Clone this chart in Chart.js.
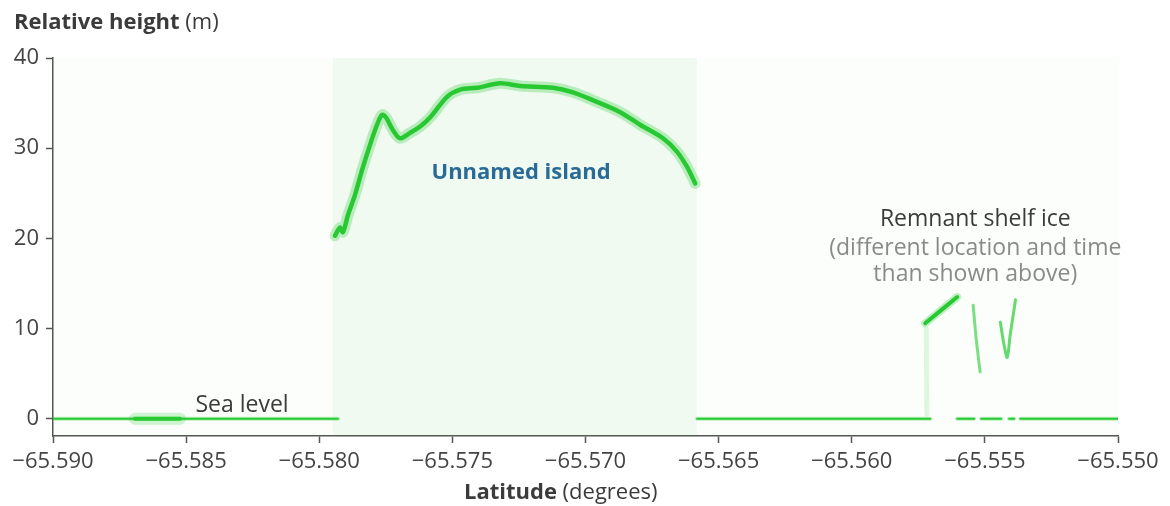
<!DOCTYPE html>
<html>
<head>
<meta charset="utf-8">
<script src="https://cdn.jsdelivr.net/npm/chart.js@4/dist/chart.umd.min.js"></script>
<style>
  html, body { margin: 0; padding: 0; background: #fff; }
  #wrap { width: 1170px; height: 506px; }
</style>
</head>
<body>
<div id="wrap"><canvas id="chart" width="1170" height="506"></canvas></div>
<script>
// Tick values
const xTicks = [-65.590, -65.585, -65.580, -65.575, -65.570, -65.565, -65.560, -65.555, -65.550];
const yTicks = [0, 10, 20, 30, 40];

// Island surface profile (latitude, height in m)
const islandLat = [-65.57941, -65.57922, -65.57911, -65.57892, -65.57866, -65.57839, -65.57809, -65.57783,
    -65.57764, -65.57749, -65.57723, -65.57697, -65.57659, -65.57621, -65.57584, -65.57520, -65.57471,
    -65.57407, -65.57321, -65.57246, -65.57122, -65.57047, -65.56971, -65.56870, -65.56795, -65.56709,
    -65.56656, -65.56618, -65.56588];
const islandHeight = [20.3, 21.2, 20.7, 22.6, 24.8, 27.6, 30.4, 32.6,
    33.7, 33.4, 32.0, 31.1, 31.7, 32.4, 33.4, 35.7, 36.5,
    36.7, 37.2, 36.9, 36.7, 36.2, 35.3, 34.0, 32.6, 31.1,
    29.6, 27.9, 26.1];

// Sea level segments (start, end latitude), height 0
const seaStart = [-65.5900, -65.56581, -65.55604, -65.55514, -65.55409, -65.55367];
const seaEnd   = [-65.5793, -65.55705, -65.55540, -65.55439, -65.55390, -65.5500];

// Noisy spot on the sea surface
const seaBlobLat = [-65.58692, -65.58523];

// Remnant shelf ice: slanted top and vertical streaks
const shelfLat = [-65.55724, -65.55604];
const shelfHeight = [10.6, 13.5];
const streakLat = [-65.55544, -65.55533, -65.55518];
const streakHeight = [12.6, 9.0, 5.2];
const vLat = [-65.55442, -65.55428, -65.55416, -65.55405, -65.55390, -65.55385];
const vHeight = [10.7, 8.2, 6.8, 9.3, 12.2, 13.2];
const faintLat = [-65.55720, -65.55718];
const faintHeight = [10.0, 0.5];

// Light photon-noise bands (latitude ranges)
const noiseAllLat = [-65.5900, -65.5500];
const noiseIslandLat = [-65.5795, -65.5658];

const green = 'rgb(40, 202, 50)';
const halo = 'rgba(40, 202, 50, 0.28)';

function pairs(xs, ys) {
    return xs.map((x, i) => ({ x: x, y: ys[i] }));
}

function band(lats, hi) {
    return [{ x: lats[0], y: hi }, { x: lats[1], y: hi }];
}

// Sea level as one line with gaps
const seaData = [];
seaStart.forEach((s, i) => {
    seaData.push({ x: s, y: 0 }, { x: seaEnd[i], y: 0 });
    if (i < seaStart.length - 1) seaData.push({ x: (seaEnd[i] + seaStart[i + 1]) / 2, y: null });
});

const lineDs = (data, color, width) => ({
    data: data,
    showLine: true,
    borderColor: color,
    borderWidth: width,
    pointRadius: 0,
    tension: 0.3,
    spanGaps: false,
    borderCapStyle: 'round',
    borderJoinStyle: 'round',
    fill: false
});

const datasets = [
    Object.assign(lineDs(band(noiseAllLat, 40), 'rgba(0,0,0,0)', 0),
        { fill: { target: 'start' }, backgroundColor: 'rgba(60, 190, 60, 0.02)', tension: 0 }),
    Object.assign(lineDs(band(noiseIslandLat, 40), 'rgba(0,0,0,0)', 0),
        { fill: { target: 'start' }, backgroundColor: 'rgba(60, 190, 60, 0.06)', tension: 0 }),
    lineDs(seaData, 'rgba(40, 202, 50, 0.3)', 4),
    lineDs(seaData, green, 2),
    lineDs(pairs(seaBlobLat, [0, 0]), 'rgba(40, 202, 50, 0.22)', 12),
    lineDs(pairs(seaBlobLat, [0, 0]), green, 4),
    lineDs(pairs(islandLat, islandHeight), halo, 11),
    lineDs(pairs(islandLat, islandHeight), green, 4.5),
    lineDs(pairs(faintLat, faintHeight), 'rgba(40, 202, 50, 0.14)', 5),
    lineDs(pairs(shelfLat, shelfHeight), halo, 8),
    lineDs(pairs(shelfLat, shelfHeight), green, 4),
    lineDs(pairs(streakLat, streakHeight), 'rgba(40, 202, 50, 0.6)', 3),
    lineDs(pairs(vLat, vHeight), 'rgba(40, 202, 50, 0.7)', 3)
];

const textColor = '#3b3b3b';
const fam = '"Open Sans", Lato, sans-serif';

const labelsPlugin = {
    id: 'labels',
    afterDraw(chart) {
        const ctx = chart.ctx;
        const xs = chart.scales.x, ys = chart.scales.y;
        ctx.save();
        ctx.textBaseline = 'middle';

        // Axis titles (bold + regular)
        function mixed(x, y, boldText, normText, align) {
            ctx.font = 'bold 22px ' + fam;
            const w1 = ctx.measureText(boldText).width;
            ctx.font = '22px ' + fam;
            const w2 = ctx.measureText(normText).width;
            const start = align === 'center' ? x - (w1 + w2) / 2 : x;
            ctx.fillStyle = textColor;
            ctx.textAlign = 'left';
            ctx.font = 'bold 22px ' + fam;
            ctx.fillText(boldText, start, y);
            ctx.font = '22px ' + fam;
            ctx.fillText(normText, start + w1, y);
        }
        mixed(14, 23, 'Relative height', ' (m)', 'left');
        mixed(xs.getPixelForValue(-65.57093), 493, 'Latitude', ' (degrees)', 'center');

        // Annotations
        ctx.textAlign = 'center';
        ctx.font = '23px ' + fam;
        ctx.fillStyle = textColor;
        ctx.fillText('Sea level', xs.getPixelForValue(-65.5829), ys.getPixelForValue(1.5));

        ctx.font = 'bold 22px ' + fam;
        ctx.fillStyle = '#2a6a96';
        ctx.fillText('Unnamed island', xs.getPixelForValue(-65.57242), ys.getPixelForValue(27.3));

        ctx.font = '23px ' + fam;
        ctx.fillStyle = textColor;
        ctx.fillText('Remnant shelf ice', xs.getPixelForValue(-65.55536), ys.getPixelForValue(22.1));
        ctx.fillStyle = '#8a8a8a';
        ctx.fillText('(different location and time', xs.getPixelForValue(-65.55536), ys.getPixelForValue(18.9));
        ctx.fillText('than shown above)', xs.getPixelForValue(-65.55536), ys.getPixelForValue(16.0));
        ctx.restore();
    }
};

new Chart(document.getElementById('chart'), {
    type: 'scatter',
    data: { datasets: datasets },
    plugins: [labelsPlugin],
    options: {
        responsive: false,
        animation: false,
        layout: { padding: { top: 58, right: 52, left: 0, bottom: 0 } },
        plugins: { legend: { display: false }, tooltip: { enabled: false } },
        scales: {
            x: {
                type: 'linear',
                min: -65.590,
                max: -65.550,
                afterFit: s => { s.height = 70; },
                afterBuildTicks: s => { s.ticks = xTicks.map(v => ({ value: v })); },
                grid: { drawOnChartArea: false, drawTicks: true, tickLength: 7, tickColor: '#555', tickWidth: 1.5 },
                border: { color: '#555', width: 1.5 },
                ticks: {
                    color: '#444',
                    font: { family: fam, size: 22 },
                    padding: 6,
                    maxRotation: 0,
                    autoSkip: false,
                    callback: v => '\u2212' + Math.abs(v).toFixed(3)
                }
            },
            y: {
                type: 'linear',
                min: -1.9,
                max: 40,
                afterFit: s => { s.width = 53; },
                afterBuildTicks: s => { s.ticks = yTicks.map(v => ({ value: v })); },
                grid: { drawOnChartArea: false, drawTicks: true, tickLength: 7, tickColor: '#555', tickWidth: 1.5 },
                border: { color: '#555', width: 1.5 },
                ticks: {
                    color: '#444',
                    font: { family: fam, size: 22 },
                    padding: 7,
                    callback: v => String(v)
                }
            }
        }
    }
});
</script>
</body>
</html>
